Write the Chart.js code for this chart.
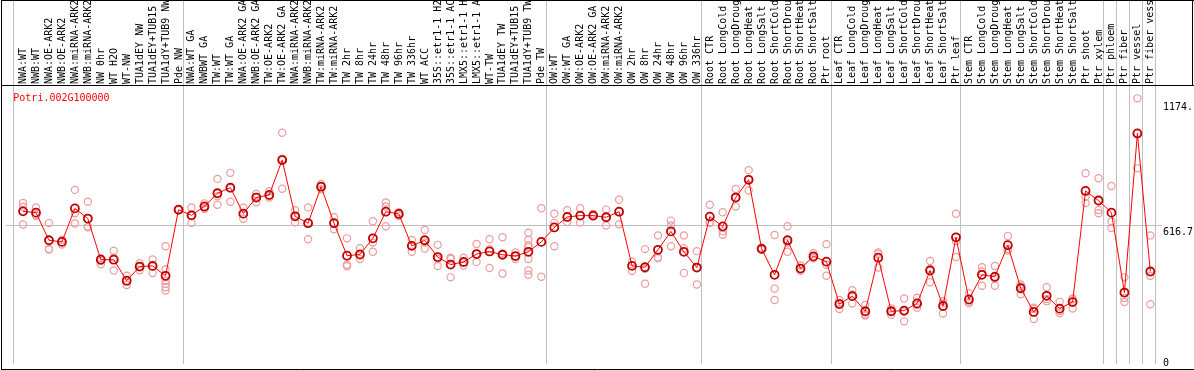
<!DOCTYPE html>
<html>
<head>
<meta charset="utf-8">
<script src="https://cdn.jsdelivr.net/npm/chart.js@4.4.1/dist/chart.umd.min.js"></script>
<style>
html,body{margin:0;padding:0;background:#fff;}
#wrap{width:1194px;height:370px;}
</style>
</head>
<body>
<div id="wrap"><canvas id="c" width="1194" height="370"></canvas></div>
<script>
const geneName = 'Potri.002G100000';
const categories = [
 'NWA:WT','NWB:WT','NWA:OE-ARK2','NWB:OE-ARK2','NWA:miRNA-ARK2','NWB:miRNA-ARK2','NW 0hr','WT H2O','WT-NW',
 'TUA1dEY NW','TUA1dEY+TUB15','TUA1dY+TUB9 NW','Pde NW',
 'NWA:WT GA','NWBWT GA','TW:WT','TW:WT GA','NWA:OE-ARK2 GA','NWB:OE-ARK2 GA','TW:OE-ARK2','TW:OE-ARK2 GA',
 'NWA:miRNA-ARK2','NWB:miRNA-ARK2','TW:miRNA-ARK2','TW:miRNA-ARK2','TW 2hr','TW 8hr','TW 24hr','TW 48hr',
 'TW 96hr','TW 336hr','WT ACC','35S::etr1-1 H2','35S::etr1-1 AC','LMX5::etr1-1 H','LMX5::etr1-1 A','WT-TW',
 'TUA1dEY TW','TUA1dEY+TUB15','TUA1dY+TUB9 TW','Pde TW',
 'OW:WT','OW:WT GA','OW:OE-ARK2','OW:OE-ARK2 GA','OW:miRNA-ARK2','OW:miRNA-ARK2','OW 2hr','OW 8hr','OW 24hr',
 'OW 48hr','OW 96hr','OW 336hr',
 'Root CTR','Root LongCold','Root LongDroug','Root LongHeat','Root LongSalt','Root ShortCold','Root ShortDrou',
 'Root ShortHeat','Root ShortSalt','Ptr root',
 'Leaf CTR','Leaf LongCold','Leaf LongDroug','Leaf LongHeat','Leaf LongSalt','Leaf ShortCold','Leaf ShortDrou',
 'Leaf ShortHeat','Leaf ShortSalt','Ptr leaf',
 'Stem CTR','Stem LongCold','Stem LongDroug','Stem LongHeat','Stem LongSalt','Stem ShortCold','Stem ShortDrou',
 'Stem ShortHeat','Stem ShortSalt','Ptr shoot','Ptr xylem','Ptr phloem','Ptr fiber','Ptr vessel','Ptr fiber vess'
];
const means = [
 681.3,675.5,552.4,545.1,694.5,649.1,465.9,465.9,372.2,435.2,438.1,394.1,688.6,
 663.7,703.3,761.9,786.8,671.1,742.9,754.6,909.9,659.3,628.6,791.2,628.6,483.5,489.4,561.2,679.9,
 669.6,527.5,552.4,477.7,444.0,455.7,490.9,502.6,487.9,482.1,501.1,545.1,
 609.5,656.4,662.3,662.3,654.9,679.9,438.1,432.2,509.9,591.9,501.1,430.8,
 657.9,613.9,742.9,822.0,514.3,398.5,552.4,426.4,480.6,457.1,
 268.1,303.3,235.9,474.7,235.9,238.8,271.1,417.6,259.3,565.6,
 288.7,398.5,389.8,530.4,338.5,233.0,304.8,247.6,276.9,772.2,729.7,675.5,319.4,1028.6,413.2
];
const replicates = [
 [719,702,623],[699,665,662],[629,514,511],[555,533,545],[777,673,627],[724,610,614],[472,445,460],
 [506,418,475],[394,353,369],[450,419,434],[467,406,435],[526,423,372,358,343,328],[686,689,691],
 [699,630,662],[717,697,692],[826,711,749],[853,724,784],[697,648,668],[759,722,746],[771,743,750],
 [1032,782,916],[686,633,659],[699,557,629],[803,791,780],[655,601,629],[561,443,437],[517,469,484],
 [637,542,501],[721,703,615],[677,670,662],[554,501,528],[598,516,542],[532,469,438],[475,387,469],
 [475,440,453],[536,456,491],[557,429,513],[566,404,494],[498,469,481],[586,554,530,522,469,418,399],
 [695,390],
 [671,630,526],[686,634,656],[695,632,662],[670,659,662],[689,618,655],[733,624,680],[457,415,440],
 [513,359,425],[574,476,472],[640,618,526],[574,517,407],[504,355,431],
 [711,633,630],[677,593,577],[781,703,743],[865,774,826],[519,514,510],[576,337,286],[615,501,542],
 [440,416,425],[495,476,472],[535,394,443],
 [271,246,286],[330,270,311],[264,223,217],[498,431,491],[249,234,220],[293,191,234],[296,252,264],
 [460,365,425],[281,226,271],[671,478,548],
 [315,271,278],[432,350,413],[438,350,381],[571,513,507],[355,312,347],[252,201,246],[343,281,290],
 [278,227,237],[293,248,289],[851,746,718],[829,687,673],[794,636,607],[387,295,277],[1185,873,1029],
 [574,393,267]
];
// vertical separator positions on the category axis
const separators = [-0.72, 12.38, 40.38, 52.38, 62.38, 72.38, 83.38, 84.38, 85.38, 86.38, 87.38];
const yTickValues = [0, 616.7, 1174];
const yTickLabels = ['0', '616.7', '1174.'];

const FONT = '10px "DejaVu Sans Mono", "Liberation Mono", monospace';

const meanPoints = means.map((v, i) => ({x: i, y: v}));
const repPoints = [];
replicates.forEach((arr, i) => arr.forEach(v => repPoints.push({x: i, y: v})));

const decorPlugin = {
  id: 'decor',
  afterDraw(chart) {
    const ctx = chart.ctx;
    const xs = chart.scales.x, ys = chart.scales.y;
    const ca = chart.chartArea;
    ctx.save();
    ctx.fillStyle = '#000';
    ctx.font = FONT;
    ctx.textAlign = 'left';
    ctx.textBaseline = 'middle';
    categories.forEach((lab, i) => {
      const x = xs.getPixelForValue(i);
      ctx.save();
      ctx.translate(Math.round(x) + 0.5, ca.top - 2);
      ctx.rotate(-Math.PI / 2);
      ctx.fillText(lab, 0, 0);
      ctx.restore();
    });
    ctx.textBaseline = 'alphabetic';
    yTickValues.forEach((v, k) => {
      const y = Math.min(ys.getPixelForValue(v) + 9, 366);
      ctx.fillText(yTickLabels[k], ca.right + 1, y);
    });
    ctx.fillStyle = '#ff0000';
    ctx.fillText(geneName, ca.left + 7.5, ca.top + 15);
    ctx.strokeStyle = '#000';
    ctx.lineWidth = 1;
    ctx.beginPath();
    ctx.moveTo(1.5, 0); ctx.lineTo(1.5, 370);
    ctx.moveTo(1, 0.5); ctx.lineTo(1194, 0.5);
    ctx.moveTo(1, ca.top - 0.5); ctx.lineTo(1194, ca.top - 0.5);
    ctx.moveTo(1, 369.5); ctx.lineTo(1194, 369.5);
    ctx.moveTo(1192.5, 0); ctx.lineTo(1192.5, ca.top);
    ctx.stroke();
    ctx.restore();
  }
};

new Chart(document.getElementById('c'), {
  type: 'scatter',
  data: {
    datasets: [
      {
        label: 'mean', data: meanPoints, showLine: true, order: 0,
        borderColor: '#ff0000', borderWidth: 1, backgroundColor: 'rgba(0,0,0,0)',
        pointStyle: 'circle', pointRadius: 4, pointBorderWidth: 1.8,
        pointBorderColor: '#c00000', pointBackgroundColor: 'rgba(0,0,0,0)', tension: 0
      },
      {
        label: 'replicates', data: repPoints, showLine: false, order: 1,
        pointStyle: 'circle', pointRadius: 3.6, pointBorderWidth: 1.2,
        pointBorderColor: '#ec9c9c', pointBackgroundColor: 'rgba(0,0,0,0)'
      }
    ]
  },
  options: {
    responsive: false, animation: false, devicePixelRatio: 1,
    layout: {padding: {left: 2, right: 32, top: 0, bottom: 2}},
    plugins: {legend: {display: false}, tooltip: {enabled: false}},
    scales: {
      x: {
        type: 'linear', position: 'top', min: -1.331, max: 87.9,
        afterBuildTicks: s => { s.ticks = separators.map(v => ({value: v})); },
        ticks: {display: false},
        grid: {color: '#c0c0c0', lineWidth: 1, drawTicks: true, tickLength: 86},
        border: {display: false}
      },
      y: {
        type: 'linear', position: 'right', min: 0, max: 1240,
        afterBuildTicks: s => { s.ticks = yTickValues.map(v => ({value: v})); },
        ticks: {display: false},
        grid: {color: c => (c.tick && c.tick.value === 616.7) ? '#c0c0c0' : 'rgba(0,0,0,0)', drawTicks: false},
        border: {display: false}
      }
    }
  },
  plugins: [decorPlugin]
});
</script>
</body>
</html>
